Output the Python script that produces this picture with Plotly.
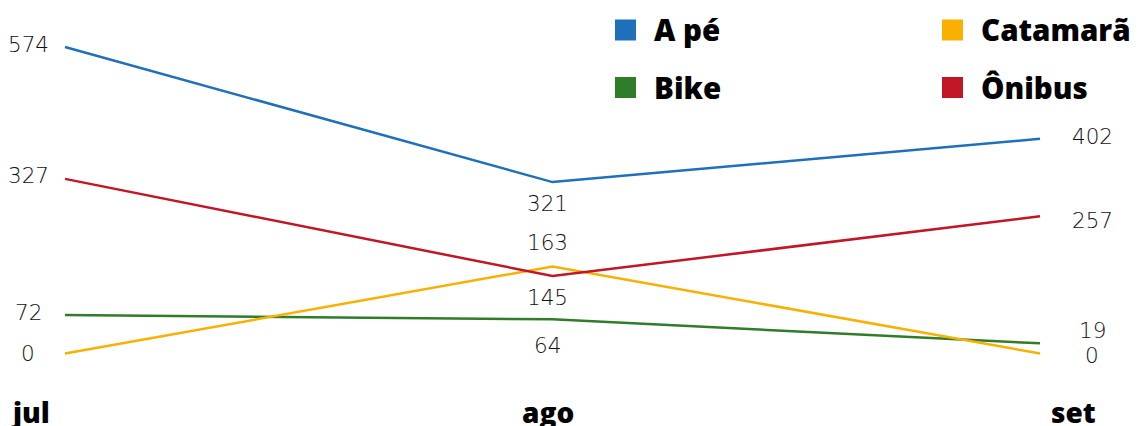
import plotly.graph_objects as go

months = ["jul", "ago", "set"]
series_names = ["A pé", "Bike", "Catamarã", "Ônibus"]
a_pe = [574, 321, 402]
bike = [72, 64, 19]
catamara = [0, 163, 0]
onibus = [327, 145, 257]

colors = {"A pé": "#1f70ba", "Bike": "#2f7d28", "Catamarã": "#f9b000", "Ônibus": "#c01626"}
values = {"A pé": a_pe, "Bike": bike, "Catamarã": catamara, "Ônibus": onibus}

# label offsets (pixels) for each series at each month: (xshift, yshift)
label_offsets = {
    "A pé":     [(-37, 3), (-5, -21), (52, 2)],
    "Bike":     [(-37, 3), (-5, -26), (52, 13)],
    "Catamarã": [(-37, 0), (-5, 24), (52, -2)],
    "Ônibus":   [(-37, 3), (-5, -21), (52, -4)],
}

# page body has an 8px offset; work in figure coordinates
W, H = 1138, 426
xi = list(range(len(months)))
x0_px, x2_px = 57, 1032
step = (x2_px - x0_px) / 2
xr = [-x0_px / step, 2 + (W - x2_px) / step]
top_px, zero_px = 39, 345.5
ppu = (zero_px - top_px) / 574
yr = [-(H - zero_px) / ppu, zero_px / ppu]

fig = go.Figure()
for name in series_names:
    fig.add_trace(go.Scatter(
        x=xi, y=values[name], mode="lines", name=name,
        line=dict(color=colors[name], width=2.5),
        showlegend=False, hoverinfo="skip",
    ))

label_font = dict(family="DejaVu Sans", size=21.5, color="#111111", weight=300)
for name in series_names:
    for i, v in enumerate(values[name]):
        dx, dy = label_offsets[name][i]
        fig.add_annotation(x=xi[i], y=v, text=str(v), showarrow=False,
                           xshift=dx, yshift=dy, font=label_font,
                           xanchor="center", yanchor="middle")

# category labels
tick_shift = [-35, -5, 33]
for i, m in enumerate(months):
    fig.add_annotation(x=xi[i], y=0, xref="x", yref="paper", text=m, showarrow=False,
                       xshift=tick_shift[i], yshift=22, yanchor="middle",
                       font=dict(family="Open Sans", size=28, color="#000000", weight=800))

# manual legend (square swatches + names), in pixel positions
leg_font = dict(family="Open Sans", size=29.5, color="#000000", weight=800)
legend_pos = {"A pé": (607, 22), "Bike": (607, 79.5), "Catamarã": (934, 22), "Ônibus": (934, 79.5)}
for name in series_names:
    lx, ly = legend_pos[name]
    fig.add_shape(type="rect", xref="paper", yref="paper",
                  x0=lx / W, x1=(lx + 21) / W, y0=1 - (ly + 10.5) / H, y1=1 - (ly - 10.5) / H,
                  fillcolor=colors[name], line=dict(width=0))
    fig.add_annotation(x=(lx + 37) / W, y=1 - ly / H, xref="paper", yref="paper",
                       text=name, showarrow=False, xanchor="left", yanchor="middle",
                       font=leg_font)

fig.update_layout(
    width=W, height=H,
    margin=dict(l=0, r=0, t=0, b=0),
    paper_bgcolor="white", plot_bgcolor="white",
    xaxis=dict(range=xr, visible=False, fixedrange=True),
    yaxis=dict(range=yr, visible=False, fixedrange=True),
    showlegend=False,
)

fig.write_html("out.html")
